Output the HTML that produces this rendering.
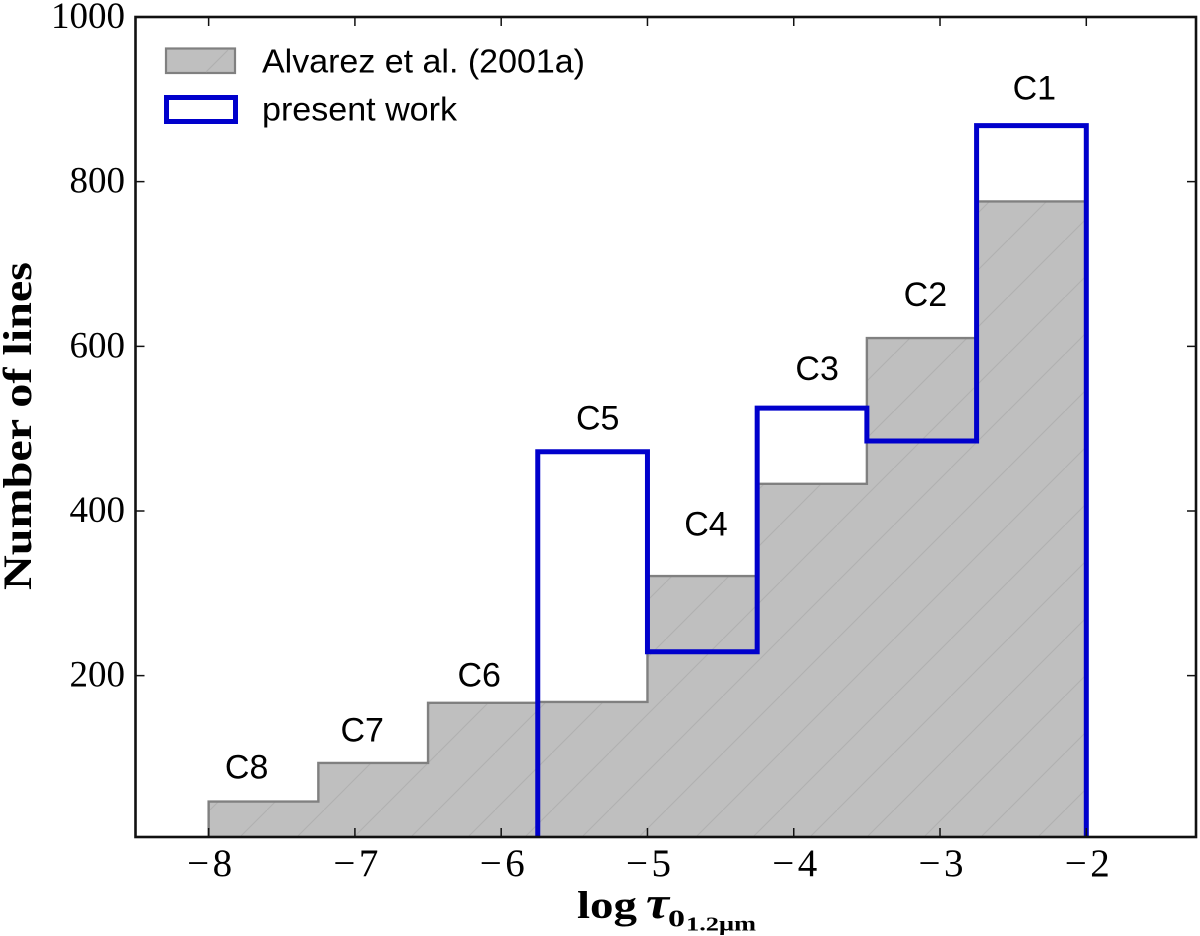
<!DOCTYPE html>
<html>
<head>
<meta charset="utf-8">
<title>Number of lines histogram</title>
<style>
html,body{margin:0;padding:0;background:#fff;width:1200px;height:936px;overflow:hidden}
svg{display:block}
.serif{font-family:"Liberation Serif",serif}
.sans{font-family:"Liberation Sans",sans-serif}
</style>
</head>
<body>
<svg id="chart" width="1200" height="936" viewBox="0 0 1200 936" xmlns="http://www.w3.org/2000/svg">
<defs>
<pattern id="hatch" patternUnits="userSpaceOnUse" width="57" height="57" x="39" y="12">
<path d="M-5 62 L62 -5" stroke="#b0b0b0" stroke-width="1.1" fill="none"/>
</pattern>
<clipPath id="axes-clip"><rect x="136" y="17" width="1060" height="820"/></clipPath>
</defs>
<g id="plot" clip-path="url(#axes-clip)"></g>
<g id="overlay"></g>
<g>
<g>
<rect x="166" y="48.5" width="69" height="24.5" fill="#bfbfbf" stroke="#808080" stroke-width="2.2"/>
<path d="M206 72 L228 50" stroke="#b0b0b0" stroke-width="1.1" fill="none"/>
<text x="262" y="72.5" class="sans" font-size="33" fill="#000" textLength="323" lengthAdjust="spacingAndGlyphs">Alvarez et al. (2001a)</text>
</g>
<g>
<rect x="166.5" y="97.5" width="69" height="24" fill="#fff" stroke="#0000cc" stroke-width="5"/>
<text x="262" y="120.5" class="sans" font-size="33" fill="#000" textLength="195" lengthAdjust="spacingAndGlyphs">present work</text>
</g>
</g>
<text transform="translate(31 590) rotate(-90)" class="serif" font-size="40" font-weight="700" fill="#000" textLength="328" lengthAdjust="spacingAndGlyphs">Number of lines</text>
<g>
<text x="577" y="918" class="serif" font-size="39" font-weight="700" fill="#000" textLength="60" lengthAdjust="spacingAndGlyphs">log</text>
<text x="646" y="918" class="serif" font-size="46" font-weight="700" font-style="italic" fill="#000" textLength="23" lengthAdjust="spacingAndGlyphs">τ</text>
<text x="668" y="926.5" class="serif" font-size="24" font-weight="700" fill="#000" textLength="17" lengthAdjust="spacingAndGlyphs">0</text>
<text x="686" y="930.5" class="serif" font-size="20" font-weight="700" fill="#000" textLength="70" lengthAdjust="spacingAndGlyphs">1.2μm</text>
</g>
</svg>
<script>
const binEdges = [-8, -7.25, -6.5, -5.75, -5, -4.25, -3.5, -2.75, -2];
const alvarezCounts = [47, 94, 167, 168, 321, 433, 610, 776];
const presentEdges = [-5.75, -5, -4.25, -3.5, -2.75, -2];
const presentCounts = [472, 229, 525, 485, 868];
const classLabels = ['C8', 'C7', 'C6', 'C5', 'C4', 'C3', 'C2', 'C1'];
const classLabelX = [-7.74, -6.95, -6.15, -5.34, -4.6, -3.84, -3.1, -2.355];
const classLabelY = [75, 120, 187, 499, 370, 559, 649, 900];
const xTicks = [-8, -7, -6, -5, -4, -3, -2];
const yTicks = [200, 400, 600, 800, 1000];

const xMin = -8.5, xMax = -1.25, yMin = 4, yMax = 1000;
const axLeft = 135.5, axRight = 1196, axTop = 17, axBottom = 837;
function xs(v){ return axLeft + (v - xMin) / (xMax - xMin) * (axRight - axLeft); }
function ys(v){ return axBottom - (v - yMin) / (yMax - yMin) * (axBottom - axTop); }

const NS = 'http://www.w3.org/2000/svg';
function mk(parent, tag, attrs, text){
  const el = document.createElementNS(NS, tag);
  for (const k in attrs) el.setAttribute(k, attrs[k]);
  if (text !== undefined) el.textContent = text;
  parent.appendChild(el);
  return el;
}
function stepPath(edges, vals){
  let d = 'M' + xs(edges[0]) + ' ' + (axBottom + 10);
  vals.forEach((v, i) => {
    d += ' L' + xs(edges[i]) + ' ' + ys(v) + ' L' + xs(edges[i + 1]) + ' ' + ys(v);
  });
  d += ' L' + xs(edges[edges.length - 1]) + ' ' + (axBottom + 10);
  return d;
}
const plot = document.getElementById('plot');
const overlay = document.getElementById('overlay');

const grayFill = mk(plot, 'path', {d: stepPath(binEdges, alvarezCounts) + ' Z', fill: '#bfbfbf', stroke: 'none'});


const grayHatch = mk(plot, 'path', {d: stepPath(binEdges, alvarezCounts) + ' Z', fill: 'url(#hatch)', stroke: 'none'});


const grayLine = mk(plot, 'path', {d: stepPath(binEdges, alvarezCounts), fill: 'none', stroke: '#808080', 'stroke-width': 2.4});


const blueLine = mk(plot, 'path', {d: stepPath(presentEdges, presentCounts), fill: 'none', stroke: '#0000cc', 'stroke-width': 5, 'stroke-linejoin': 'miter'});



classLabels.forEach((t, i) => {
  const el = mk(overlay, 'text', {x: xs(classLabelX[i]), y: ys(classLabelY[i]), 'text-anchor': 'middle', 'class': 'sans', 'font-size': 34, fill: '#000'}, t);
  
  
});

const frame = mk(overlay, 'rect', {x: axLeft, y: axTop, width: axRight - axLeft, height: axBottom - axTop, fill: 'none', stroke: '#111', 'stroke-width': 2.6});



xTicks.forEach(v => {
  const x = xs(v);
  const t1 = mk(overlay, 'path', {d: 'M' + x + ' ' + axBottom + ' v-9 M' + x + ' ' + axTop + ' v9', stroke: '#111', 'stroke-width': 1.5, fill: 'none'});
  
  
  const lab = mk(overlay, 'text', {x: x + 1, y: 876, 'text-anchor': 'middle', 'class': 'serif', 'font-size': 39, fill: '#000', textLength: 45}, '\u2212' + Math.abs(v));
  
  
});
yTicks.forEach(v => {
  const y = ys(v);
  const t1 = mk(overlay, 'path', {d: 'M' + axLeft + ' ' + y + ' h9 M' + axRight + ' ' + y + ' h-9', stroke: '#111', 'stroke-width': 1.5, fill: 'none'});
  
  
  const lab = mk(overlay, 'text', {x: 125, y: y + 11, 'text-anchor': 'end', 'class': 'serif', 'font-size': 37, fill: '#000'}, String(v));
  
  
});
</script>
</body>
</html>
